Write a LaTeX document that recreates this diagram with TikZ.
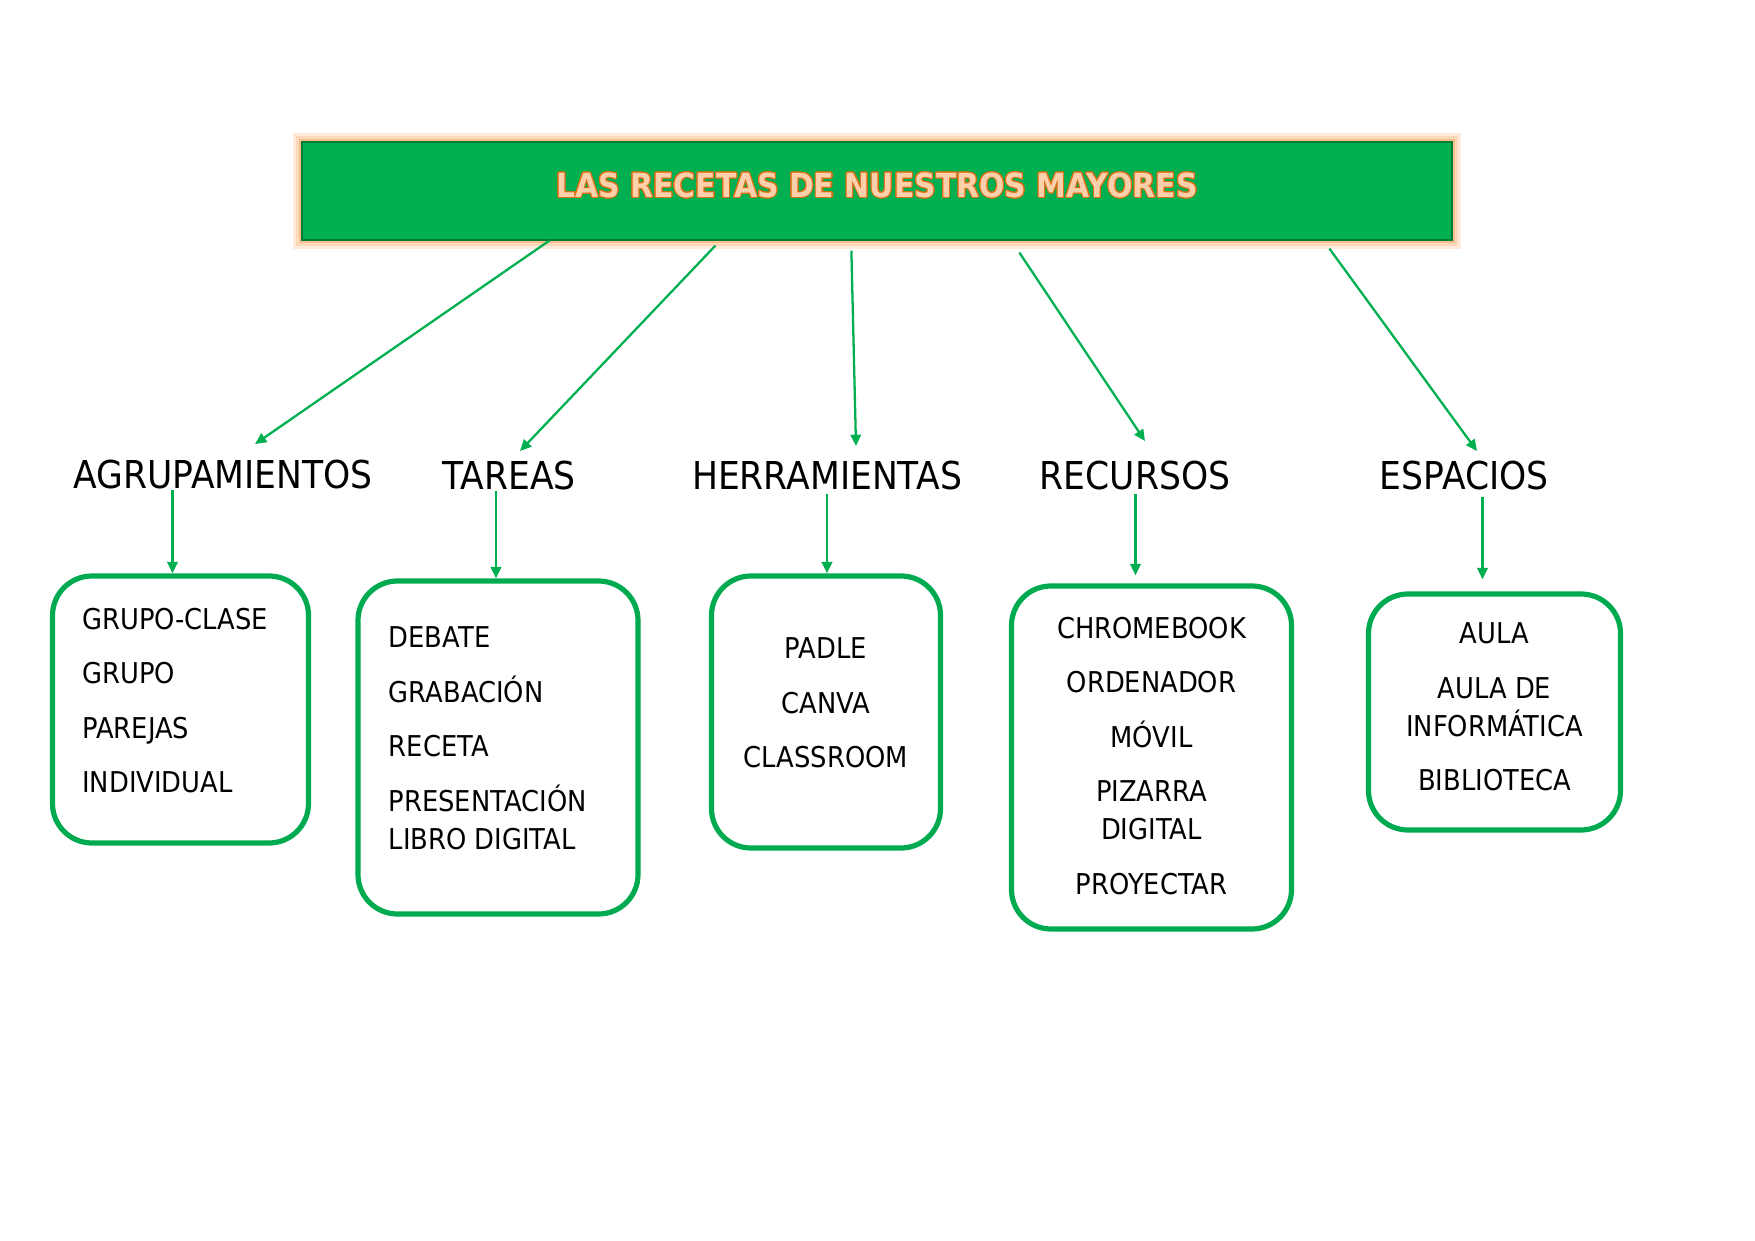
\documentclass[tikz,border=0pt]{standalone}
\usepackage{fontspec}
\setmainfont{DejaVu Sans}[FakeStretch=0.9]
\usepackage[copies]{contour}
\usetikzlibrary{positioning,arrows.meta,calc}
\definecolor{mapgreen}{RGB}{0,176,80}
\definecolor{boxgreen}{RGB}{0,170,80}
\definecolor{glowor}{RGB}{250,190,140}
\definecolor{titlefill}{RGB}{251,208,170}
\definecolor{titleline}{RGB}{220,110,20}
\newdimen\pxu \pxu=0.48167pt
\contourlength{0.5pt}
\tikzset{
  titlebox/.style={rectangle, fill=mapgreen, draw=mapgreen!70!black, line width=0.6pt,
                   preaction={draw=glowor!30, line width=9pt},
                   preaction={draw=glowor!60, line width=6pt},
                   preaction={draw=glowor, line width=3pt},
                   font=\bfseries\fontsize{16}{19}\selectfont},
  cat/.style={inner sep=0pt, font=\fontsize{18.5}{22}\selectfont},
  itembox/.style={draw=boxgreen, line width=2.5pt, rounded corners=19pt},
  items/.style={inner sep=0pt, font=\fontsize{13.8}{18.3}\selectfont},
  arr/.style={-{Triangle[length=5.5pt,width=5pt]}, mapgreen, line width=1.1pt}
}

\begin{document}
\begin{tikzpicture}[x=\pxu, y=-\pxu]
  \useasboundingbox (0,0) rectangle (1755,1241);
  % title
  \node[titlebox, minimum width=1150\pxu, minimum height=98\pxu] (title) at (877,191)
    {\raisebox{6pt}{\color{titlefill}\contour{titleline}{LAS RECETAS DE NUESTROS MAYORES}}};
  % categories
  \node[cat, anchor=base] (agr) at (223,489) {AGRUPAMIENTOS};
  \node[cat, anchor=base] (tar) at (509,490) {TAREAS};
  \node[cat, anchor=base] (her) at (827,490) {HERRAMIENTAS};
  \node[cat, anchor=base] (rec) at (1135,490) {RECURSOS};
  \node[cat, anchor=base] (esp) at (1464,490) {ESPACIOS};
  % boxes
  \node[itembox, minimum width=256\pxu, minimum height=267\pxu] (b1) at (180.5,709.5) {};
  \node[itembox, minimum width=280\pxu, minimum height=333\pxu] (b2) at (498,747.5) {};
  \node[itembox, minimum width=229\pxu, minimum height=272\pxu] (b3) at (826,712) {};
  \node[itembox, minimum width=280\pxu, minimum height=343\pxu] (b4) at (1151.5,757.5) {};
  \node[itembox, minimum width=252\pxu, minimum height=236\pxu] (b5) at (1494.5,712) {};
  \node[items, align=left, below right=34\pxu and 32\pxu of b1.north west] (t1)
    {GRUPO-CLASE\\[8pt] GRUPO\\[8pt] PAREJAS\\[8pt] INDIVIDUAL};
  \node[items, align=left, below right=48\pxu and 33\pxu of b2.north west] (t2)
    {DEBATE\\[8pt] GRABACIÓN\\[8pt] RECETA\\[8pt] PRESENTACIÓN\\ LIBRO DIGITAL};
  \node[items, align=center, below=64\pxu of b3.north] (t3)
    {PADLE\\[8pt] CANVA\\[8pt] CLASSROOM};
  \node[items, align=center, below=33\pxu of b4.north] (t4)
    {CHROMEBOOK\\[8pt] ORDENADOR\\[8pt] MÓVIL\\[8pt] PIZARRA\\ DIGITAL\\[8pt] PROYECTAR};
  \node[items, align=center, below=31\pxu of b5.north] (t5)
    {AULA\\[8pt] AULA DE\\ INFORMÁTICA\\[8pt] BIBLIOTECA};
  % title -> categories
  \draw[arr] ([shift={(248,0)}]title.south west) -- ([shift={(32,-16)}]agr.north);
  \draw[arr] ([shift={(414,5)}]title.south west) -- ([shift={(11,-10)}]tar.north);
  \draw[arr] ([shift={(550,10)}]title.south west) -- ([shift={(29,-15)}]her.north);
  \draw[arr] ([shift={(718,12)}]title.south west) -- ([shift={(10,-20)}]rec.north);
  \draw[arr] ([shift={(1028,8)}]title.south west) -- ([shift={(13,-10)}]esp.north);
  % categories -> boxes
  \draw[arr] ($(agr.south -| b1.north)+(-8,0)$) -- ($(b1.north)+(-8,0)$);
  \draw[arr] ($(tar.south -| b2.north)+(-2,0)$) -- ($(b2.north)+(-2,0)$);
  \draw[arr] ($(her.south -| b3.north)+(1,3)$) -- ($(b3.north)+(1,0)$);
  \draw[arr] ($(rec.south -| b4.north)+(-16,3)$) -- ($(b4.north)+(-16,-8)$);
  \draw[arr] ($(esp.south -| b5.north)+(-12,6)$) -- ($(b5.north)+(-12,-12)$);
\end{tikzpicture}
\end{document}
